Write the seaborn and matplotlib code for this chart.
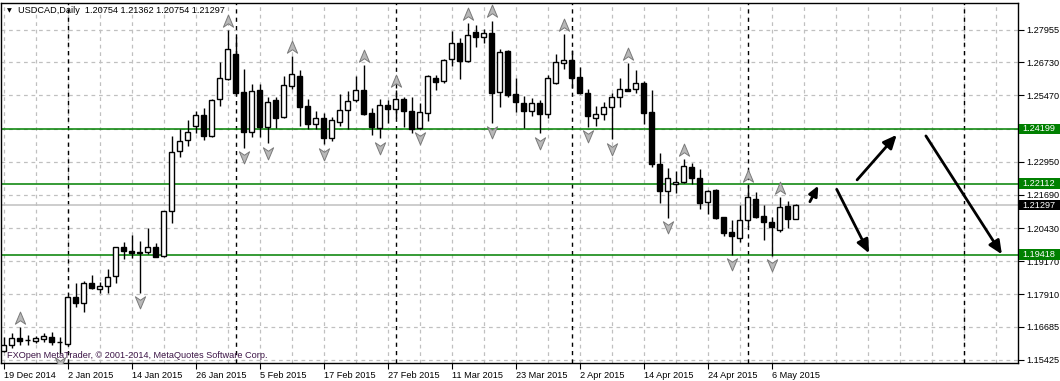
import numpy as np
import matplotlib
matplotlib.use("Agg")
import matplotlib.pyplot as plt
import seaborn as sns
from matplotlib.path import Path
from matplotlib.markers import MarkerStyle
from matplotlib.patches import Rectangle
from matplotlib.transforms import blended_transform_factory

# ---------------- data ----------------
opens = [1.1577, 1.1599, 1.1626, 1.1619, 1.1614, 1.1621, 1.1630, 1.1611, 1.1601, 1.1782,
         1.1757, 1.1833, 1.1810, 1.1823, 1.1861, 1.1970, 1.1955, 1.1950, 1.1951, 1.1972,
         1.1935, 1.2108, 1.2336, 1.2378, 1.2431, 1.2471, 1.2394, 1.2532, 1.2610, 1.2704,
         1.2560, 1.2409, 1.2568, 1.2428, 1.2530, 1.2464, 1.2583, 1.2620, 1.2506, 1.2437,
         1.2460, 1.2384, 1.2445, 1.2490, 1.2530, 1.2568, 1.2480, 1.2424, 1.2511, 1.2496,
         1.2533, 1.2488, 1.2422, 1.2479, 1.2612, 1.2602, 1.2684, 1.2745, 1.2678, 1.2787,
         1.2768, 1.2783, 1.2559, 1.2716, 1.2551, 1.2517, 1.2489, 1.2517, 1.2476, 1.2595,
         1.2671, 1.2682, 1.2616, 1.2555, 1.2462, 1.2475, 1.2502, 1.2542, 1.2570, 1.2570,
         1.2595, 1.2483, 1.2286, 1.2185, 1.2210, 1.2219, 1.2274, 1.2232, 1.2141, 1.2186,
         1.2084, 1.2027, 1.2004, 1.2074, 1.2152, 1.2089, 1.2066, 1.2036, 1.2127, 1.20754]
highs = [1.1630, 1.1643, 1.1666, 1.1637, 1.1633, 1.1645, 1.1647, 1.1629, 1.1783, 1.1833,
         1.1842, 1.1865, 1.1839, 1.1886, 1.1972, 1.1989, 1.2017, 1.1995, 1.2042, 1.1985,
         1.2109, 1.2393, 1.2418, 1.2454, 1.2489, 1.2498, 1.2533, 1.2675, 1.2796, 1.2770,
         1.2646, 1.2590, 1.2590, 1.2542, 1.2542, 1.2621, 1.2697, 1.2644, 1.2533, 1.2488,
         1.2479, 1.2465, 1.2551, 1.2565, 1.2621, 1.2663, 1.2498, 1.2533, 1.2530, 1.2568,
         1.2542, 1.2540, 1.2517, 1.2625, 1.2625, 1.2685, 1.2793, 1.2764, 1.2821, 1.2815,
         1.2798, 1.2831, 1.2722, 1.2720, 1.2612, 1.2544, 1.2536, 1.2530, 1.2625, 1.2704,
         1.2780, 1.2720, 1.2656, 1.2570, 1.2507, 1.2523, 1.2557, 1.2612, 1.2669, 1.2644,
         1.2603, 1.2568, 1.2327, 1.2270, 1.2260, 1.2305, 1.2289, 1.2266, 1.2188, 1.2191,
         1.2085, 1.2074, 1.2131, 1.2207, 1.2181, 1.2131, 1.2084, 1.2160, 1.2146, 1.21362]
lows = [1.1573, 1.1586, 1.1599, 1.1599, 1.1605, 1.1611, 1.1599, 1.1564, 1.1599, 1.1742,
        1.1725, 1.1811, 1.1795, 1.1795, 1.1833, 1.1924, 1.1928, 1.1797, 1.1944, 1.1932,
        1.1933, 1.2061, 1.2312, 1.2356, 1.2403, 1.2378, 1.2390, 1.2508, 1.2606, 1.2552,
        1.2348, 1.2390, 1.2388, 1.2365, 1.2424, 1.2460, 1.2570, 1.2431, 1.2419, 1.2419,
        1.2361, 1.2375, 1.2432, 1.2419, 1.2523, 1.2473, 1.2397, 1.2384, 1.2441, 1.2460,
        1.2428, 1.2403, 1.2419, 1.2451, 1.2568, 1.2593, 1.2659, 1.2609, 1.2673, 1.2730,
        1.2745, 1.2443, 1.2504, 1.2542, 1.2485, 1.2423, 1.2470, 1.2403, 1.2460, 1.2590,
        1.2646, 1.2574, 1.2552, 1.2426, 1.2431, 1.2454, 1.2380, 1.2504, 1.2564, 1.2557,
        1.2438, 1.2276, 1.2139, 1.2082, 1.2177, 1.2213, 1.2210, 1.2115, 1.2096, 1.2077,
        1.2013, 1.1941, 1.1989, 1.2048, 1.2082, 1.1998, 1.1937, 1.2027, 1.2042, 1.20754]
closes = [1.1599, 1.1624, 1.1614, 1.1618, 1.1624, 1.1633, 1.1609, 1.1610, 1.1781, 1.1757,
          1.1833, 1.1814, 1.1824, 1.1856, 1.1969, 1.1956, 1.1947, 1.1948, 1.1972, 1.1934,
          1.2107, 1.2333, 1.2375, 1.2407, 1.2471, 1.2394, 1.2531, 1.2612, 1.2722, 1.2557,
          1.2409, 1.2564, 1.2428, 1.2521, 1.2462, 1.2585, 1.2627, 1.2504, 1.2439, 1.2461,
          1.2384, 1.2452, 1.2492, 1.2526, 1.2568, 1.2477, 1.2428, 1.2509, 1.2496, 1.2533,
          1.2489, 1.2419, 1.2483, 1.2620, 1.2599, 1.2683, 1.2745, 1.2679, 1.2775, 1.2768,
          1.2783, 1.2557, 1.2711, 1.2549, 1.2521, 1.2489, 1.2517, 1.2476, 1.2612, 1.2673,
          1.2682, 1.2614, 1.2555, 1.2470, 1.2475, 1.2502, 1.2540, 1.2570, 1.2565, 1.2593,
          1.2481, 1.2285, 1.2185, 1.2232, 1.2218, 1.2279, 1.2232, 1.2139, 1.2184, 1.2080,
          1.2025, 1.2014, 1.2074, 1.2160, 1.2086, 1.2066, 1.2046, 1.2122, 1.2076, 1.21297]

x_tick_pos = [0, 8, 16, 24, 32, 40, 48, 56, 64, 72, 80, 88, 96]
x_tick_labels = ["19 Dec 2014", "2 Jan 2015", "14 Jan 2015", "26 Jan 2015", "5 Feb 2015",
                 "17 Feb 2015", "27 Feb 2015", "11 Mar 2015", "23 Mar 2015", "2 Apr 2015",
                 "14 Apr 2015", "24 Apr 2015", "6 May 2015"]
y_ticks = [1.27955, 1.26730, 1.25470, 1.24210, 1.22950, 1.21690, 1.20430,
           1.19170, 1.17910, 1.16685, 1.15425]
y_tick_labels = ["1.27955", "1.26730", "1.25470", "", "1.22950", "1.21690", "1.20430",
                 "1.19170", "1.17910", "1.16685", "1.15425"]
period_separators = [8, 29, 49, 71, 93, 120]

fractal_up = [2, 28, 36, 45, 49, 58, 61, 70, 78, 85, 93, 97]
fractal_down = [7, 17, 30, 33, 40, 47, 52, 61, 67, 73, 76, 83, 91, 96]

levels = [1.24199, 1.22112, 1.19418]
bid_price = 1.21297

arrow_x0 = [100.8, 106.7, 104.15, 115.3]
arrow_y0 = [1.2143, 1.2226, 1.2190, 1.2393]
arrow_x1 = [101.85, 111.65, 108.2, 124.8]
arrow_y1 = [1.2204, 1.2397, 1.1947, 1.1943]

title_text = "USDCAD,Daily  1.20754 1.21362 1.20754 1.21297"
copyright_text = "FXOpen MetaTrader, \u00a9 2001-2014, MetaQuotes Software Corp."

# ---------------- style ----------------
sns.set_theme(style="white")
FONT = ["Liberation Sans", "DejaVu Sans"]
plt.rcParams["font.family"] = FONT
FS = 6.6

W, H = 1060, 381
fig = plt.figure(figsize=(W / 100, H / 100), dpi=100)
fig.patch.set_facecolor("white")
ax = fig.add_axes([1 / W, 18 / H, 1017 / W, 360 / H])
ax.set_facecolor("white")

x = np.arange(len(opens))
o = np.array(opens); c = np.array(closes)
hi = np.array(highs); lo = np.array(lows)

ax.set_xlim(-0.3125, 126.8125)
ax.set_ylim(1.15301, 1.28981)

# grid
grid_kw = dict(color="#c0c0c0", lw=0.9, ls=(0, (3, 3)), zorder=0)
for yt in y_ticks:
    ax.axhline(yt, **grid_kw)
for xv in range(0, 128, 4):
    ax.axvline(xv, **grid_kw)
for xv in period_separators:
    ax.axvline(xv, color="black", lw=1.0, ls=(0, (3, 3)), zorder=1)

# horizontal levels
for lv in levels:
    ax.axhline(lv, color="#008000", lw=1.1, zorder=2)
ax.axhline(bid_price, color="#c0c0c0", lw=1.1, zorder=2)

# candles
ax.vlines(x, lo, hi, color="black", lw=1.0, zorder=3)
bull = c >= o
body_bottom = np.minimum(o, c)
body_h = np.abs(c - o)
ax.bar(x, body_h, bottom=body_bottom, width=0.62,
       color=np.where(bull, "white", "black"), edgecolor="black", linewidth=1.0, zorder=4)

# fractal markers
up_path = Path([(0, 1), (0.8, -0.9), (0, -0.35), (-0.8, -0.9), (0, 1)],
               [Path.MOVETO, Path.LINETO, Path.LINETO, Path.LINETO, Path.CLOSEPOLY])
dn_path = Path([(0, -1), (0.8, 0.9), (0, 0.35), (-0.8, 0.9), (0, -1)],
               [Path.MOVETO, Path.LINETO, Path.LINETO, Path.LINETO, Path.CLOSEPOLY])
off = 0.0035
sns.scatterplot(x=np.array(fractal_up), y=hi[fractal_up] + off, marker=MarkerStyle(up_path),
                s=85, color="#b8b8b8", edgecolor="#7a7a7a", linewidth=0.7, ax=ax, zorder=5)
sns.scatterplot(x=np.array(fractal_down), y=lo[fractal_down] - off, marker=MarkerStyle(dn_path),
                s=85, color="#b8b8b8", edgecolor="#7a7a7a", linewidth=0.7, ax=ax, zorder=5)

# drawn arrows
for i, (xa, ya, xb, yb) in enumerate(zip(arrow_x0, arrow_y0, arrow_x1, arrow_y1)):
    ms = 6 if i == 0 else 8
    ax.annotate("", xy=(xb, yb), xytext=(xa, ya),
                arrowprops=dict(arrowstyle="-|>,head_length=1.0,head_width=0.45",
                                mutation_scale=ms,
                                color="black", lw=2.0, shrinkA=0, shrinkB=0),
                zorder=6)

# axes / ticks
for sp in ax.spines.values():
    sp.set_color("black"); sp.set_linewidth(1.0)
ax.yaxis.tick_right()
ax.set_yticks(y_ticks)
ax.set_yticklabels(y_tick_labels)
ax.set_xticks(x_tick_pos)
ax.set_xticklabels(x_tick_labels, ha="left")
ax.tick_params(axis="y", which="both", right=True, left=False, length=4, width=0.8,
               pad=2, labelsize=FS, colors="black")
ax.tick_params(axis="x", which="both", bottom=True, length=4, width=0.8,
               pad=1.5, labelsize=FS, colors="black")
ax.set_xlabel(""); ax.set_ylabel("")
ax.grid(False)

# right-side price boxes
trans = blended_transform_factory(ax.transAxes, ax.transData)
box_h = 0.0040
box_x0, box_w = 1.0012, 0.042
def price_box(val, face):
    ax.add_patch(Rectangle((box_x0, val - box_h / 2), box_w, box_h, transform=trans,
                           facecolor=face, edgecolor="none", clip_on=False, zorder=9))
    ax.text(1.0040, val, f"{val:.5f}", transform=trans, ha="left", va="center",
            fontsize=FS, color="white", zorder=10, clip_on=False)
for lv in levels:
    price_box(lv, "#008000")
price_box(bid_price, "black")

# title and copyright
fig.text(7 / W, 1 - 10.5 / H, "\u25bc", fontsize=4.5, color="black", va="center", ha="left",
         family=["DejaVu Sans"])
fig.text(18 / W, 1 - 10.5 / H, title_text, fontsize=FS, color="black", va="center", ha="left")
fig.text(7 / W, 1 - 356 / H, copyright_text, fontsize=FS, color="#3c1446", va="center", ha="left")

fig.savefig("out.png", dpi=100, facecolor="white")
